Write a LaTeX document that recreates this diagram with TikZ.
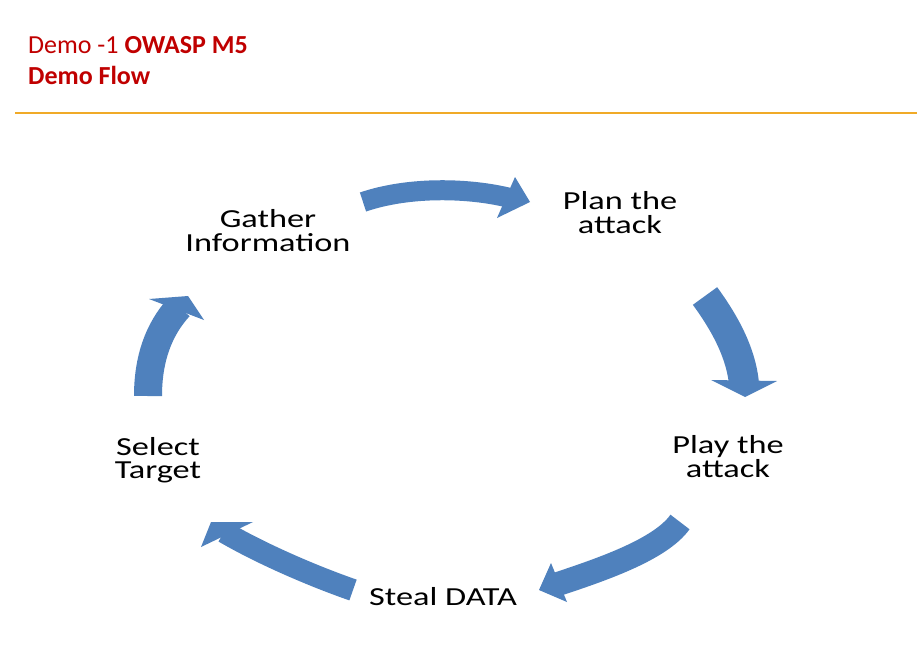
\documentclass[tikz,border=0pt]{standalone}
\usepackage{fontspec}
\setmainfont{Carlito}
\usepackage{graphicx}
\definecolor{titlered}{RGB}{192,0,0}
\definecolor{rulegold}{RGB}{240,170,40}
\definecolor{arrowblue}{RGB}{79,129,189}
\newcommand\cycletext[1]{\scalebox{1.32}[1]{\begin{tabular}[t]{@{}c@{}}#1\end{tabular}}}
\begin{document}
\begin{tikzpicture}[x=1pt,y=-1pt,
  titletext/.style={font=\fontsize{26}{31}\selectfont, text=titlered, anchor=base west, inner sep=0pt},
  cyc/.style={font=\fontsize{26}{23}\selectfont, text=black, anchor=base, inner sep=0pt},
  band/.style={draw=arrowblue, line cap=butt},
  head/.style={fill=arrowblue}]
\useasboundingbox (0,0) rectangle (917,669);
\fill[white] (0,0) rectangle (917,669);

% title
\node[titletext] (title1) at (28,53) {Demo -1 \textbf{OWASP M5}};
\node[titletext] (title2) at (28,84) {\textbf{Demo Flow}};
\coordinate (ruleL) at (15,113);
\coordinate (ruleR) at (917,113);
\draw[rulegold, line width=1.2pt] (ruleL) -- (ruleR);

% labels
\node[cyc] (gather) at (268,227) {\cycletext{Gather\\Information}};
\node[cyc] (plan)   at (620,209) {\cycletext{Plan the\\attack}};
\node[cyc] (play)   at (728,453) {\cycletext{Play the\\attack}};
\node[cyc] (steal)  at (443,605) {\cycletext{Steal DATA}};
\node[cyc] (select) at (158,455) {\cycletext{Select\\Target}};

% top arrow: Gather -> Plan
\coordinate (a1s) at (363,202);
\coordinate (a1e) at (510,198);
\draw[band, line width=20pt] (a1s) .. controls (410,186) and (470,188) .. (a1e);
\coordinate (a1b1) at (515,177);
\coordinate (a1t) at (530,202);
\coordinate (a1b2) at (497,218);
\fill[head] (a1b1) -- (a1t) -- (a1b2) -- cycle;

% right arrow: Plan -> Play
\coordinate (a2s) at (705,296);
\coordinate (a2e) at (744,384);
\draw[band, line width=30pt] (a2s) .. controls (724,322) and (741,352) .. (a2e);
\coordinate (a2b1) at (711,380);
\coordinate (a2t) at (745,397);
\coordinate (a2b2) at (777,381);
\fill[head] (a2b1) -- (a2t) -- (a2b2) -- cycle;

% bottom-right arrow: Play -> Steal
\coordinate (a3s) at (680,522);
\coordinate (a3e) at (555,585);
\draw[band, line width=24pt] (a3s) .. controls (660,550) and (600,570) .. (a3e);
\coordinate (a3b1) at (551,563);
\coordinate (a3t) at (539,590);
\coordinate (a3b2) at (567,602);
\fill[head] (a3b1) -- (a3t) -- (a3b2) -- cycle;

% bottom-left arrow: Steal -> Select
\coordinate (a4s) at (353,590);
\coordinate (a4e) at (224,532);
\draw[band, line width=22pt] (a4s) .. controls (310,575) and (260,553) .. (a4e);
\coordinate (a4b1) at (253,522);
\coordinate (a4t) at (211,522);
\coordinate (a4b2) at (201,547);
\fill[head] (a4b1) -- (a4t) -- (a4b2) -- cycle;

% left arrow: Select -> Gather
\coordinate (a5s) at (148,396);
\coordinate (a5e) at (179,307);
\draw[band, line width=28pt] (a5s) .. controls (148,360) and (158,330) .. (a5e);
\coordinate (a5b1) at (149,299);
\coordinate (a5t) at (188,296);
\coordinate (a5b2) at (204,320);
\fill[head] (a5b1) -- (a5t) -- (a5b2) -- cycle;
\end{tikzpicture}
\end{document}
